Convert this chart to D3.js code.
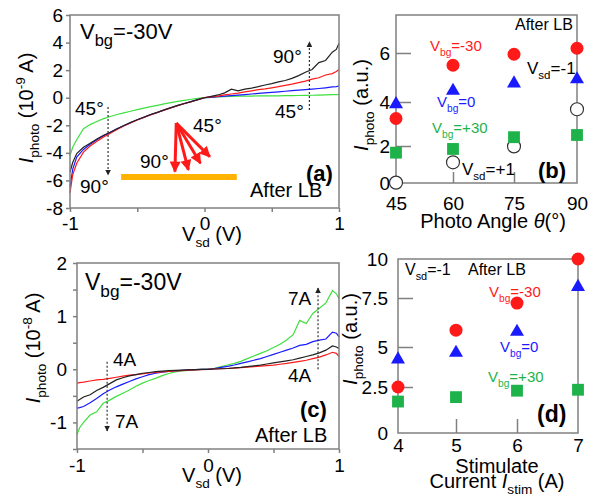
<!DOCTYPE html>
<html><head><meta charset="utf-8">
<script src="https://cdn.jsdelivr.net/npm/d3@7"></script>
<style>body{margin:0;background:#fff}svg{display:block}text{font-family:"Liberation Sans",Arial,Helvetica,sans-serif}</style>
</head><body><svg id="c" width="597" height="496"></svg>
<script>
// ---------- DATA ----------
const vsd = [-1,-0.98,-0.95,-0.9,-0.85,-0.8,-0.75,-0.7,-0.65,-0.6,-0.55,-0.5,-0.45,-0.4,-0.35,-0.3,-0.25,-0.2,-0.15,-0.1,-0.05,0,0.05,0.1,0.15,0.2,0.25,0.3,0.35,0.4,0.45,0.5,0.55,0.6,0.65,0.7,0.75,0.8,0.85,0.9,0.95,0.98,1];
// panel (a): Iphoto (1e-9 A) vs Vsd for photo angles
const a90 = [-5.4,-4.7,-4.05,-3.6,-3.3,-3.0,-2.72,-2.5,-2.25,-2.02,-1.8,-1.6,-1.42,-1.22,-1.06,-0.88,-0.72,-0.56,-0.42,-0.28,-0.14,0,0.1,0.2,0.35,0.62,0.5,0.62,0.7,0.8,0.92,1.02,1.15,1.25,1.4,1.6,1.85,2.05,2.55,2.7,3.3,3.5,3.95];
const a75 = [-6.9,-5.6,-4.75,-3.95,-3.5,-3.15,-2.85,-2.58,-2.3,-2.05,-1.83,-1.62,-1.43,-1.24,-1.07,-0.9,-0.74,-0.58,-0.43,-0.29,-0.15,0,0.06,0.12,0.2,0.27,0.33,0.42,0.5,0.58,0.64,0.72,0.8,0.9,0.98,1.1,1.2,1.35,1.45,1.65,1.75,1.9,2.05];
const a60 = [-6.5,-5.2,-4.3,-3.75,-3.38,-3.05,-2.76,-2.5,-2.26,-2.03,-1.81,-1.6,-1.41,-1.23,-1.06,-0.89,-0.73,-0.57,-0.42,-0.28,-0.14,0,0.03,0.07,0.11,0.15,0.19,0.23,0.27,0.31,0.35,0.39,0.43,0.47,0.51,0.55,0.58,0.62,0.67,0.72,0.78,0.8,0.85];
const a45 = [-4.2,-3.6,-3.05,-2.25,-1.95,-1.72,-1.52,-1.36,-1.22,-1.1,-0.98,-0.87,-0.76,-0.65,-0.55,-0.45,-0.36,-0.27,-0.19,-0.11,-0.05,0,0.03,0.06,0.08,0.1,0.11,0.12,0.12,0.13,0.13,0.14,0.14,0.15,0.15,0.16,0.17,0.18,0.19,0.2,0.22,0.23,0.25];
// panel (c): Iphoto (1e-8 A) vs Vsd for stimulate currents
const c7 = [-1.23,-1.1,-1.0,-0.86,-0.8,-0.64,-0.58,-0.51,-0.45,-0.39,-0.32,-0.26,-0.21,-0.17,-0.12,-0.08,-0.05,-0.03,-0.02,-0.01,0,0,0.02,0.05,0.08,0.11,0.15,0.2,0.25,0.3,0.35,0.41,0.47,0.55,0.65,0.92,0.86,1.05,1.15,1.25,1.48,1.42,1.33];
const c6 = [-0.73,-0.72,-0.7,-0.63,-0.55,-0.46,-0.39,-0.33,-0.28,-0.23,-0.18,-0.14,-0.1,-0.075,-0.055,-0.04,-0.03,-0.02,-0.01,-0.005,0,0,0.015,0.035,0.055,0.08,0.11,0.14,0.17,0.2,0.24,0.28,0.32,0.36,0.4,0.45,0.47,0.52,0.55,0.57,0.7,0.68,0.61];
const c5 = [-0.6,-0.57,-0.52,-0.48,-0.4,-0.34,-0.27,-0.2,-0.16,-0.125,-0.1,-0.075,-0.06,-0.045,-0.035,-0.025,-0.02,-0.015,-0.01,-0.005,0,0,0.005,0.01,0.015,0.025,0.035,0.05,0.065,0.08,0.1,0.12,0.14,0.16,0.18,0.21,0.24,0.27,0.31,0.36,0.44,0.42,0.39];
const c4 = [-0.26,-0.25,-0.24,-0.22,-0.2,-0.19,-0.17,-0.15,-0.13,-0.11,-0.1,-0.085,-0.07,-0.06,-0.05,-0.04,-0.03,-0.025,-0.015,-0.01,-0.005,0,0.005,0.01,0.015,0.02,0.03,0.04,0.05,0.06,0.07,0.08,0.095,0.11,0.13,0.15,0.17,0.2,0.23,0.27,0.32,0.3,0.24];
// panel (b): Iphoto (a.u.) vs photo angle
const angles = [45,60,75,90];
const bVbgM30 = [3.25,5.5,5.95,6.2];
const bVbg0 = [3.95,4.5,4.8,4.97];
const bVbgP30 = [1.64,1.84,2.4,2.5];
const bVsdP1 = [0.02,1.12,1.98,3.67];
// panel (d): Iphoto (a.u.) vs stimulate current
const currents = [4,5,6,7];
const dVbgM30 = [2.5,5.86,7.24,10];
const dVbg0 = [4.29,4.7,5.83,8.28];
const dVbgP30 = [1.71,1.95,2.3,2.35];
// tick labels
const aYTicks = [-8,-6,-4,-2,0,2,4,6];
const cYTicks = [-1.5,-1,-0.5,0,0.5,1,1.5,2];
const cYLabels = [-1,0,1,2];
const vsdTicks = [-1,-0.5,0,0.5,1];
const vsdLabels = [-1,0,1];
const bYLabels = [0,2,4,6];
const dYLabels = [0,2.5,5,7.5,10];

// ---------- DRAW ----------
const svg = d3.select("#c");
const GRAY = "#808080";
const RED = "#ff1a1a", BLUE = "#1a1aff", GREEN = "#1db34a", LGREEN = "#3ee03e";

function rich(g, x, y, parts, size, o = {}) {
  const t = g.append("text").attr("x", x).attr("y", y).attr("font-size", size)
    .attr("fill", o.fill || "#000").attr("text-anchor", o.anchor || "start");
  if (o.weight) t.attr("font-weight", o.weight);
  if (o.rotate) t.attr("transform", `rotate(-90,${x},${y})`);
  const r = o.subRatio || 0.68;
  let shift = 0;
  parts.forEach(p => {
    const [s, kind, it] = typeof p === "string" ? [p] : p;
    const target = kind === "sub" ? size * 0.3 : kind === "sup" ? -size * 0.4 : 0;
    const ts = t.append("tspan").text(s).attr("dy", target - shift);
    shift = target;
    if (kind) ts.attr("font-size", size * r);
    if (it) ts.attr("font-style", "italic");
  });
  return t;
}
function styleAxis(sel, size) {
  sel.select(".domain").remove();
  sel.selectAll("line").attr("stroke", GRAY).attr("stroke-width", 1.5);
  sel.selectAll("text").attr("font-size", size).attr("fill", "#000")
    .attr("font-family", '"Liberation Sans",Arial,sans-serif');
}
function frame(x, y) {
  const [x0, x1] = d3.extent(x.range()), [y0, y1] = d3.extent(y.range());
  svg.append("rect").attr("x", x0).attr("y", y0).attr("width", x1 - x0).attr("height", y1 - y0)
    .attr("fill", "none").attr("stroke", GRAY).attr("stroke-width", 1.5);
}
const defs = svg.append("defs");
defs.append("marker").attr("id", "ah").attr("viewBox", "0 0 10 10").attr("refX", 9).attr("refY", 5)
  .attr("markerWidth", 6).attr("markerHeight", 6).attr("markerUnits", "userSpaceOnUse").attr("orient", "auto")
  .append("path").attr("d", "M0,0L10,5L0,10Z").attr("fill", "#222");
defs.append("marker").attr("id", "rh").attr("viewBox", "0 0 10 10").attr("refX", 9).attr("refY", 5)
  .attr("markerWidth", 12).attr("markerHeight", 11).attr("markerUnits", "userSpaceOnUse").attr("orient", "auto")
  .append("path").attr("d", "M0,0L10,5L0,10Z").attr("fill", RED);
function dashedArrow(x1, y1, x2, y2) {
  svg.append("line").attr("x1", x1).attr("y1", y1).attr("x2", x2).attr("y2", y2)
    .attr("stroke", "#333").attr("stroke-width", 1.2).attr("stroke-dasharray", "2,2").attr("marker-end", "url(#ah)");
}

// ===== Panel (a) =====
const xA = d3.scaleLinear().domain([-1, 1]).range([70, 339]);
const yA = d3.scaleLinear().domain([-8, 6]).range([208, 15]);
const lineA = d3.line().x((d, i) => xA(vsd[i])).y(d => yA(d));
[[a45, LGREEN], [a60, BLUE], [a75, RED], [a90, "#222"]].forEach(([s, c]) =>
  svg.append("path").attr("d", lineA(s)).attr("fill", "none").attr("stroke", c).attr("stroke-width", 1.2));
frame(xA, yA);
styleAxis(svg.append("g").attr("transform", "translate(70,0)")
  .call(d3.axisLeft(yA).tickValues(aYTicks).tickFormat(d => String(d)).tickSizeInner(4).tickSizeOuter(0).tickPadding(3)), 19);
styleAxis(svg.append("g").attr("transform", "translate(0,208)")
  .call(d3.axisBottom(xA).tickValues(vsdTicks).tickFormat(d => vsdLabels.includes(d) ? String(d) : "").tickSizeInner(4).tickSizeOuter(0).tickPadding(5)), 19);
rich(svg, 33, 108, [["I", null, true], ["photo", "sub"], " (10", ["-9", "sup"], " A)"], 20, { anchor: "middle", rotate: true });
rich(svg, 212, 241, ["V", ["sd", "sub"], " (V)"], 20, { anchor: "middle" });
rich(svg, 80, 39, ["V", ["bg", "sub"], "=-30V"], 22, { subRatio: 0.75 });
rich(svg, 273, 63, ["90°"], 19);
rich(svg, 275, 118, ["45°"], 19);
rich(svg, 75, 115, ["45°"], 19);
rich(svg, 80, 193, ["90°"], 19);
rich(svg, 193, 132, ["45°"], 19);
rich(svg, 140, 168, ["90°"], 19);
dashedArrow(xA(0.78), yA(-0.9), xA(0.78), yA(4.05));
dashedArrow(xA(-0.717), yA(-0.67), xA(-0.717), yA(-5.6));
svg.append("line").attr("x1", xA(-0.62)).attr("x2", xA(0.24)).attr("y1", yA(-5.75)).attr("y2", yA(-5.75))
  .attr("stroke", "#ffb300").attr("stroke-width", 6);
const arrowTips = [[-0.22, -5.36], [-0.12, -5.24], [-0.03, -4.75], [0.04, -4.28]];
arrowTips.forEach(([tx, ty]) =>
  svg.append("line").attr("x1", xA(-0.21)).attr("y1", yA(-1.84)).attr("x2", xA(tx)).attr("y2", yA(ty))
    .attr("stroke", RED).attr("stroke-width", 3).attr("marker-end", "url(#rh)"));
rich(svg, 306, 181, ["(a)"], 22, { weight: "bold" });
rich(svg, 250, 197, ["After LB"], 20);

// ===== Panel (c) =====
const xC = d3.scaleLinear().domain([-1, 1]).range([77, 339]);
const yC = d3.scaleLinear().domain([-1.5, 2]).range([449, 263]);
const lineC = d3.line().x((d, i) => xC(vsd[i])).y(d => yC(d));
[[c7, LGREEN], [c6, BLUE], [c4, RED], [c5, "#222"]].forEach(([s, c]) =>
  svg.append("path").attr("d", lineC(s)).attr("fill", "none").attr("stroke", c).attr("stroke-width", 1.2));
frame(xC, yC);
styleAxis(svg.append("g").attr("transform", "translate(77,0)")
  .call(d3.axisLeft(yC).tickValues(cYTicks).tickFormat(d => cYLabels.includes(d) ? String(d) : "").tickSizeInner(4).tickSizeOuter(0).tickPadding(6)), 19);
styleAxis(svg.append("g").attr("transform", "translate(0,449)")
  .call(d3.axisBottom(xC).tickValues(vsdTicks).tickFormat(d => vsdLabels.includes(d) ? String(d) : "").tickSizeInner(4).tickSizeOuter(0).tickPadding(6)), 19);
rich(svg, 40, 348, [["I", null, true], ["photo", "sub"], " (10", ["-8", "sup"], " A)"], 20, { anchor: "middle", rotate: true });
rich(svg, 212, 482, ["V", ["sd", "sub"], " (V)"], 20, { anchor: "middle" });
rich(svg, 85, 290, ["V", ["bg", "sub"], "=-30V"], 23, { subRatio: 0.75 });
rich(svg, 288, 305, ["7A"], 19);
rich(svg, 288, 382, ["4A"], 19);
rich(svg, 113, 366, ["4A"], 19);
rich(svg, 115, 428, ["7A"], 19);
dashedArrow(xC(0.84), yC(0), xC(0.84), yC(1.53));
dashedArrow(xC(-0.77), yC(0.14), xC(-0.77), yC(-1.16));
rich(svg, 300, 417, ["(c)"], 22, { weight: "bold" });
rich(svg, 255, 442, ["After LB"], 20);

// ===== Panel (b) =====
const xB = d3.scaleLinear().domain([45, 60, 75, 90]).range([396, 453, 514, 577]);
const yB = d3.scaleLinear().domain([0, 2, 4, 6, 7.6]).range([183, 146, 102, 53, 15]);
frame(xB, yB);
styleAxis(svg.append("g").attr("transform", "translate(396,0)")
  .call(d3.axisLeft(yB).tickValues(bYLabels).tickFormat(d => String(d)).tickSize(0).tickPadding(6)), 19);
styleAxis(svg.append("g").attr("transform", "translate(396,0)")
  .call(d3.axisLeft(yB).tickValues([2, 4, 6]).tickFormat("").tickSizeInner(-15).tickSizeOuter(0)), 19);
styleAxis(svg.append("g").attr("transform", "translate(0,183)")
  .call(d3.axisBottom(xB).tickValues(angles).tickFormat(d => String(d)).tickSize(0).tickPadding(14)), 19);
styleAxis(svg.append("g").attr("transform", "translate(0,183)")
  .call(d3.axisBottom(xB).tickValues([60, 75]).tickFormat("").tickSizeInner(-11).tickSizeOuter(0)), 19);
const tri = d3.symbol().type(d3.symbolTriangle).size(85);
const sq = d3.symbol().type(d3.symbolSquare).size(140);
function markers(xs, ys, cats, vals, kind, color) {
  vals.forEach((v, i) => {
    const cx = xs(cats[i]), cy = ys(v);
    if (kind === "circle") svg.append("circle").attr("cx", cx).attr("cy", cy).attr("r", 6.5).attr("fill", color);
    else if (kind === "open") svg.append("circle").attr("cx", cx).attr("cy", cy).attr("r", 6.5).attr("fill", "#fff").attr("stroke", "#333").attr("stroke-width", 1.2);
    else if (kind === "tri") svg.append("path").attr("d", tri()).attr("transform", `translate(${cx},${cy + 1})`).attr("fill", color);
    else svg.append("path").attr("d", sq()).attr("transform", `translate(${cx},${cy})`).attr("fill", color);
  });
}
markers(xB, yB, angles, bVsdP1, "open");
markers(xB, yB, angles, bVbgP30, "sq", GREEN);
markers(xB, yB, angles, bVbg0, "tri", BLUE);
markers(xB, yB, angles, bVbgM30, "circle", RED);
rich(svg, 368, 105, [["I", null, true], ["photo", "sub"], " (a.u.)"], 20, { anchor: "middle", rotate: true });
rich(svg, 493, 228, ["Photo Angle ", ["θ", null, true], "(°)"], 20, { anchor: "middle" });
rich(svg, 515, 30, ["After LB"], 16);
rich(svg, 430, 51, ["V", ["bg", "sub"], "=-30"], 15, { fill: RED });
rich(svg, 527, 74, ["V", ["sd", "sub"], "=-1"], 17);
rich(svg, 437, 107, ["V", ["bg", "sub"], "=0"], 15, { fill: BLUE });
rich(svg, 432, 133, ["V", ["bg", "sub"], "=+30"], 15, { fill: GREEN });
rich(svg, 462, 175, ["V", ["sd", "sub"], "=+1"], 17);
rich(svg, 538, 178, ["(b)"], 22, { weight: "bold" });

// ===== Panel (d) =====
const xD = d3.scaleLinear().domain([4, 5, 6, 7]).range([398, 456, 517, 578]);
const yD = d3.scaleLinear().domain([0, 2.5, 5, 7.5, 10]).range([433, 387, 347, 298, 259]);
rich(svg, 357, 339, [["I", null, true], ["photo", "sub"], " (a.u.)"], 20, { anchor: "middle", rotate: true });
frame(xD, yD);
styleAxis(svg.append("g").attr("transform", "translate(398,0)")
  .call(d3.axisLeft(yD).tickValues(dYLabels).tickFormat(d => String(d)).tickSize(0).tickPadding(10)), 19);
styleAxis(svg.append("g").attr("transform", "translate(398,0)")
  .call(d3.axisLeft(yD).tickValues([2.5, 5, 7.5]).tickFormat("").tickSizeInner(-15).tickSizeOuter(0)), 19);
styleAxis(svg.append("g").attr("transform", "translate(0,433)")
  .call(d3.axisBottom(xD).tickValues(currents).tickFormat(d => String(d)).tickSize(0).tickPadding(6)), 19);
styleAxis(svg.append("g").attr("transform", "translate(0,433)")
  .call(d3.axisBottom(xD).tickValues([5, 6]).tickFormat("").tickSizeInner(-14).tickSizeOuter(0)), 19);
markers(xD, yD, currents, dVbgP30, "sq", GREEN);
markers(xD, yD, currents, dVbg0, "tri", BLUE);
markers(xD, yD, currents, dVbgM30, "circle", RED);
rich(svg, 497, 473, ["Stimulate"], 20, { anchor: "middle" });
rich(svg, 497, 488, ["Current ", ["I", null, true], ["stim", "sub"], " (A)"], 20, { anchor: "middle" });
rich(svg, 405, 275, ["V", ["sd", "sub"], "=-1"], 16);
rich(svg, 468, 275, ["After LB"], 16);
rich(svg, 489, 297, ["V", ["bg", "sub"], "=-30"], 15, { fill: RED });
rich(svg, 500, 352, ["V", ["bg", "sub"], "=0"], 15, { fill: BLUE });
rich(svg, 488, 382, ["V", ["bg", "sub"], "=+30"], 15, { fill: GREEN });
rich(svg, 537, 422, ["(d)"], 23, { weight: "bold" });
</script></body></html>
